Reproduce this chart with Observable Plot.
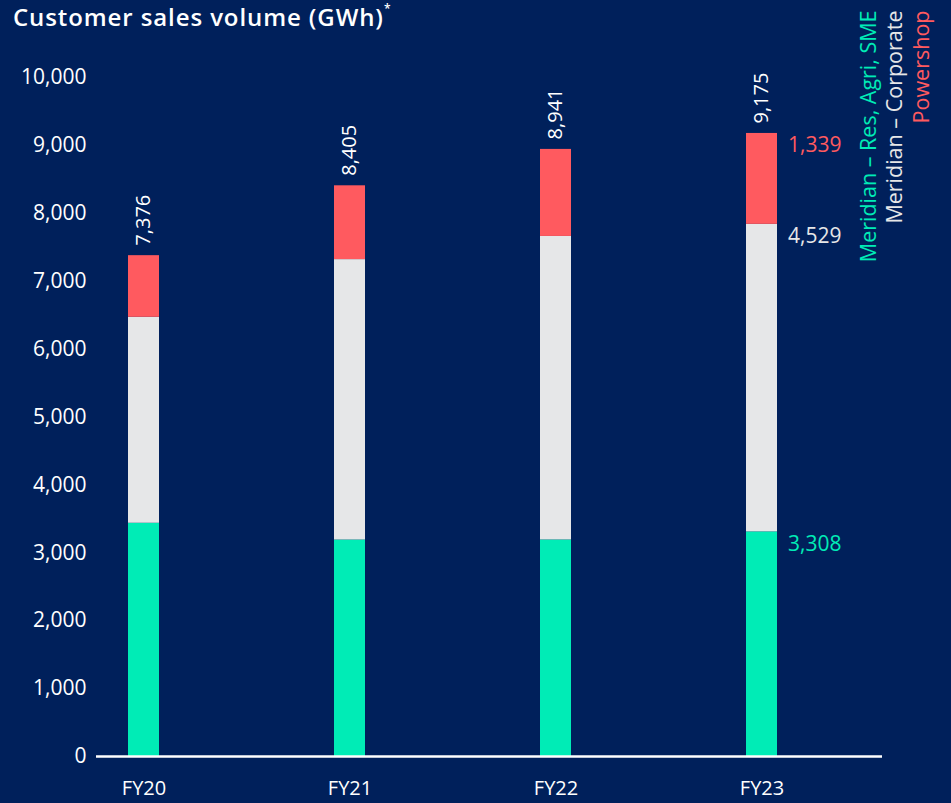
<!DOCTYPE html>
<html>
<head>
<meta charset="utf-8">
<script src="https://cdn.jsdelivr.net/npm/d3@7"></script>
<script src="https://cdn.jsdelivr.net/npm/@observablehq/plot@0.6"></script>
<style>
  html, body { margin: 0; padding: 0; background: #00205b; }
  #wrap { position: relative; width: 951px; height: 803px; background: #00205b; overflow: hidden; font-family: "Open Sans", Lato, sans-serif; }
  #title { position: absolute; left: 13px; top: 0px; color: #fff; font-size: 24px; font-weight: 600; white-space: nowrap; letter-spacing: 0.9px; line-height: normal; }
  #title sup { font-size: 12px; position: relative; top: -4px; letter-spacing: 0; }
  #chart { position: absolute; left: 0; top: 0; }
</style>
</head>
<body>
<div id="wrap">
  <div id="chart"></div>
  <div id="title">Customer sales volume (GWh)<sup>*</sup></div>
</div>
<script>
const years = ["FY20", "FY21", "FY22", "FY23"];
const resAgriSme = [3435, 3188, 3189, 3308];
const corporate = [3033, 4130, 4470, 4529];
const powershop = [908, 1087, 1282, 1339];
const totals = [7376, 8405, 8941, 9175];
const seriesNames = ["Meridian – Res, Agri, SME", "Meridian – Corporate", "Powershop"];
const seriesColors = ["#00ecb6", "#e6e7e8", "#ff5a5f"];
const yTicks = [0, 1000, 2000, 3000, 4000, 5000, 6000, 7000, 8000, 9000, 10000];

const seriesValues = [resAgriSme, corporate, powershop];
const rows = [];
years.forEach((yr, i) => {
  seriesNames.forEach((s, j) => rows.push({year: yr, series: s, value: seriesValues[j][i]}));
});
const totalRows = years.map((yr, i) => ({year: yr, total: totals[i]}));

const last = years.length - 1;
let cum = 0;
const segRows = seriesNames.map((s, j) => {
  cum += seriesValues[j][last];
  return {year: years[last], series: s, top: cum, value: seriesValues[j][last]};
});

const fmt = d3.format(",");
const FONT = "'Open Sans', Lato, sans-serif";

const plot = Plot.plot({
  width: 951,
  height: 803,
  marginTop: 77,
  marginBottom: 47,
  marginLeft: 96,
  marginRight: 69,
  style: {background: "transparent", color: "#ffffff", fontFamily: FONT, overflow: "visible"},
  x: {domain: years, paddingInner: 0.85, paddingOuter: 0.324, align: 0.23, label: null},
  y: {domain: [0, 10000], label: null},
  color: {domain: seriesNames, range: seriesColors},
  marks: [
    Plot.axisY({ticks: yTicks, tickFormat: d => fmt(d), tickSize: 0, tickPadding: 10, fontSize: 21, fill: "#ffffff", label: null}),
    Plot.axisX({tickSize: 0, tickPadding: 24, fontSize: 20, fill: "#ffffff", label: null}),
    Plot.barY(rows, {x: "year", y: "value", fill: "series"}),
    Plot.ruleY([0], {stroke: "#ffffff", strokeWidth: 2.5}),
    Plot.text(totalRows, {x: "year", y: "total", text: d => fmt(d.total), rotate: -90, textAnchor: "start", lineAnchor: "middle", dy: -10, fill: "#ffffff", fontSize: 20}),
    Plot.text(segRows, {x: "year", y: "top", text: d => fmt(d.value), fill: "series", textAnchor: "start", dx: 26, dy: 12, fontSize: 21}),
    Plot.text([seriesNames[0]], {frameAnchor: "top-right", text: d => d, rotate: -90, textAnchor: "end", lineAnchor: "middle", dx: -13, dy: -67, fill: seriesColors[0], fontSize: 21.5}),
    Plot.text([seriesNames[1]], {frameAnchor: "top-right", text: d => d, rotate: -90, textAnchor: "end", lineAnchor: "middle", dx: 13, dy: -67, fill: seriesColors[1], fontSize: 21.5}),
    Plot.text([seriesNames[2]], {frameAnchor: "top-right", text: d => d, rotate: -90, textAnchor: "end", lineAnchor: "middle", dx: 40, dy: -67, fill: seriesColors[2], fontSize: 21.5})
  ]
});
document.getElementById("chart").appendChild(plot);
</script>
</body>
</html>
